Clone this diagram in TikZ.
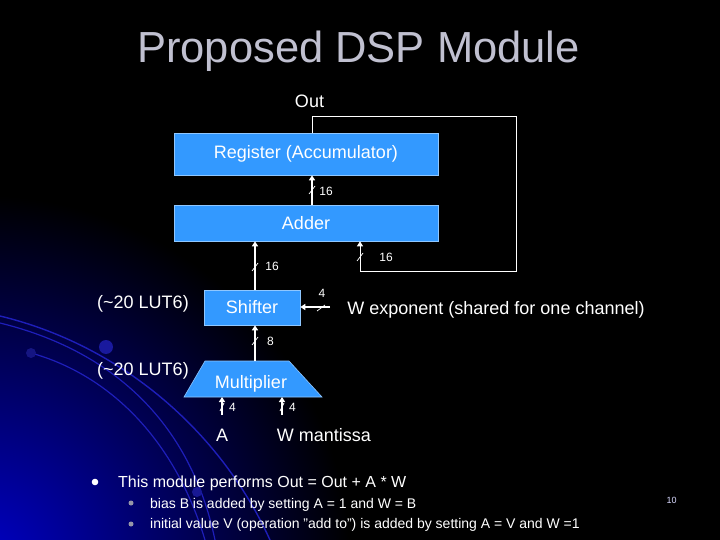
\documentclass[tikz,border=0pt]{standalone}
\usepackage{fontspec}
\setmainfont{Liberation Sans}
\usetikzlibrary{arrows.meta}

\definecolor{dspblue}{RGB}{51,153,255}
\definecolor{titlegray}{RGB}{192,192,208}
\definecolor{glowblue}{RGB}{0,0,200}
\definecolor{swirl}{RGB}{30,30,185}
\definecolor{subdot}{RGB}{150,150,168}

\begin{document}
\begin{tikzpicture}[x=1pt,y=-1pt,
  blk/.style={fill=dspblue,draw=dspblue!55!white,line width=0.6pt,text=white,
    inner sep=0pt,font=\fontsize{18}{20}\selectfont},
  lbl/.style={text=white,inner sep=1pt,font=\fontsize{18}{20}\selectfont},
  wd/.style={text=white,inner sep=0pt,font=\fontsize{12}{14}\selectfont},
  bus/.style={draw=white,line width=1.6pt,-{Triangle[length=5pt,width=6pt]}},
  fb/.style={draw=white,line width=0.9pt},
  tick/.style={draw=white,line width=0.7pt}]
  \def\busx{312}  % x of the adder/register bus
  \def\shx{255}   % x of the shifter bus

  % slide background
  \fill[black] (0,0) rectangle (720,540);
  \useasboundingbox (0,0) rectangle (720,540);
  \begin{scope}
    \clip (0,0) rectangle (720,540);
    \shade[inner color=glowblue,outer color=black] (-20,565) circle (370);
    \draw[swirl,line width=1.4pt] (0,316) .. controls (120,345) and (220,430) .. (270,540);
    \draw[swirl,line width=1.2pt] (0,323) .. controls (110,350) and (190,420) .. (215,540);
    \draw[swirl,line width=1.2pt] (31,353) .. controls (110,375) and (175,440) .. (205,540);
    \fill[swirl!85!black] (106,347) circle (7);
    \fill[swirl!70!black] (31,353) circle (5);
    \fill[swirl!80!black] (197,492) circle (5);
  \end{scope}

  % title
  \node[anchor=base,text=titlegray,font=\fontsize{43.5}{50}\selectfont] (title) at (358.5,63) {Proposed DSP Module};

  % blocks
  \node[blk,minimum width=264pt,minimum height=42pt] (reg) at (306,154) {Register (Accumulator)};
  \node[blk,minimum width=264pt,minimum height=36pt] (add) at (306,223) {Adder};
  \node[blk,minimum width=96pt,minimum height=35pt] (shift) at (252,307.5) {Shifter};
  \path[blk] (184,397) coordinate (mbl) -- (205,361) coordinate (mtl)
    -- (289,361) -- (322,397) -- cycle;
  \node[text=white,inner sep=0pt,font=\fontsize{18}{20}\selectfont] (mult) at (251,383.5) {Multiplier};

  % labels
  \node[lbl] (out) at (309.5,101) {Out};
  \node[lbl] (lutshift) at (143,304) {(\textasciitilde20 LUT6)};
  \node[lbl] (lutmult) at (143,371) {(\textasciitilde20 LUT6)};
  \node[lbl] (wexp) at (496,310) {W exponent (shared for one channel)};
  \node[lbl] (ina) at (222,435) {A};
  \node[lbl] (inw) at (324,435) {W mantissa};

  % buses
  \coordinate (fbtop) at (516,116);
  \coordinate (fbbot) at (516,271);
  \coordinate (wexpin) at (330,307);
  \coordinate (ain) at (222,415);
  \coordinate (win) at (282,415);
  \draw[fb,-{Triangle[length=5pt,width=6pt]}] (\busx,0 |- reg.north) |- (fbtop) -- (fbbot) -| (360,0 |- add.south);
  \draw[bus] (\busx,0 |- add.north) -- (\busx,0 |- reg.south);
  \draw[bus] (\shx,0 |- shift.north) -- (\shx,0 |- add.south);
  \draw[bus] (\shx,0 |- mtl) -- (\shx,0 |- shift.south);
  \draw[bus] (wexpin) -- (wexpin -| shift.east);
  \draw[bus] (ain) -- (ain |- mbl);
  \draw[bus] (win) -- (win |- mbl);

  % bus widths
  \draw[tick] (\busx,190) ++(-3,4) -- ++(6,-8);
  \draw[tick] (\shx,267) ++(-3,4) -- ++(6,-8);
  \draw[tick] (360,257) ++(-3,4) -- ++(6,-8);
  \draw[tick] (\shx,341) ++(-3,4) -- ++(6,-8);
  \draw[tick] (321,308) ++(-4,3) -- ++(8,-6);
  \draw[tick] (ain) ++(0,-8) ++(-2,4) -- ++(4,-8);
  \draw[tick] (win) ++(0,-8) ++(-2,4) -- ++(4,-8);
  \node[wd] (wreg) at (326,191.5) {16};
  \node[wd] (wadd) at (272,266) {16};
  \node[wd] (wfb) at (386,257.5) {16};
  \node[wd] (wmul) at (270.5,341) {8};
  \node[wd] (wexpw) at (322,293.5) {4};
  \node[wd] (wa) at (232.5,407.5) {4};
  \node[wd] (ww) at (292.5,407.5) {4};

  % bullets
  \fill[white] (95,482) circle (3.3);
  \fill[subdot] (131,503) circle (2.5);
  \fill[subdot] (131,524) circle (2.5);
  \node[anchor=base west,inner sep=0pt,text=white,font=\fontsize{16}{18}\selectfont] (note) at (118,487)
    {This module performs Out = Out + A * W};
  \node[anchor=base west,inner sep=0pt,text=white,font=\fontsize{14}{16}\selectfont] (biasnote) at (150,508)
    {bias B is added by setting A = 1 and W = B};
  \node[anchor=base west,inner sep=0pt,text=white,font=\fontsize{14}{16}\selectfont] (initnote) at (150,528)
    {initial value V (operation "add to") is added by setting A = V and W =1};
  \node[text=white!85!blue,inner sep=0pt,font=\fontsize{9}{10}\selectfont] (pagenum) at (671.5,500) {10};
\end{tikzpicture}
\end{document}
